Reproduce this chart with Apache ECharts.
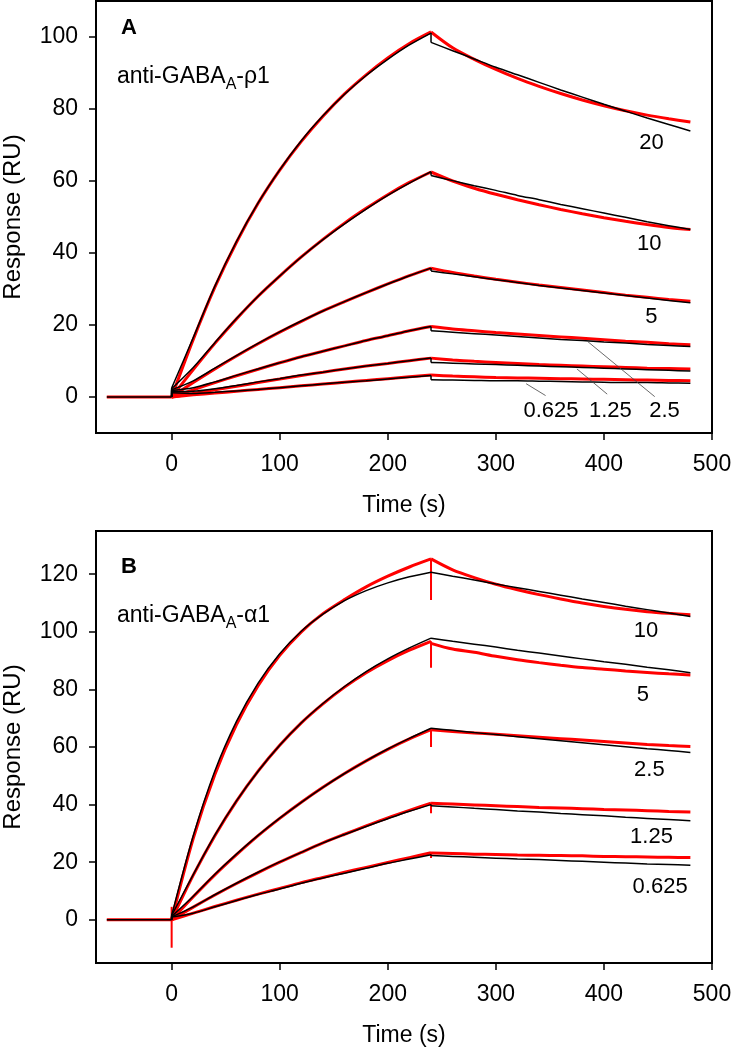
<!DOCTYPE html>
<html><head><meta charset="utf-8">
<script src="https://cdn.jsdelivr.net/npm/echarts@6/dist/echarts.min.js"></script>
<style>html,body{margin:0;padding:0;background:#fff}#c{width:732px;height:1050px}</style>
</head><body><div id="c"></div>
<script>
// ---------- data ----------
const baseTime = [-60, 0];
const assocTime = [0, 20, 40, 60, 80, 100, 120, 140, 160, 180, 200, 220, 240];
const dissTime = [240, 260, 280, 300, 320, 340, 360, 380, 400, 420, 440, 460, 480];
const xTicks = [0, 100, 200, 300, 400, 500];
const yTicksA = [0, 20, 40, 60, 80, 100];
const yTicksB = [0, 20, 40, 60, 80, 100, 120];

// Panel A (anti-GABAA-rho1)
const concA = ['20', '10', '5', '2.5', '1.25', '0.625'];
const redAssocA = [
  [0, 16.0, 30.5, 43.0, 53.8, 63.0, 71.0, 78.0, 84.2, 89.5, 94.2, 98.2, 101.4],
  [0, 7.6, 14.9, 21.7, 28.0, 33.6, 38.9, 43.8, 48.3, 52.4, 56.2, 59.6, 62.5],
  [0, 4.0, 7.8, 11.4, 14.8, 18.0, 21.0, 23.9, 26.5, 29.0, 31.4, 33.7, 35.8],
  [0, 2.0, 4.0, 5.9, 7.7, 9.5, 11.2, 12.7, 14.2, 15.7, 17.0, 18.4, 19.6],
  [0, 1.0, 2.0, 3.0, 4.0, 5.0, 6.0, 6.9, 7.8, 8.6, 9.3, 10.1, 10.8],
  [0, 0.6, 1.1, 1.6, 2.1, 2.6, 3.1, 3.6, 4.1, 4.6, 5.1, 5.6, 6.1]
];
const redDissA = [
  [101.4, 97.0, 93.8, 91.0, 88.5, 86.3, 84.3, 82.5, 80.9, 79.5, 78.3, 77.3, 76.4],
  [62.5, 60.0, 58.0, 56.3, 54.8, 53.4, 52.1, 50.9, 49.8, 48.8, 47.9, 47.1, 46.5],
  [35.8, 34.6, 33.6, 32.7, 31.9, 31.1, 30.4, 29.7, 29.0, 28.3, 27.7, 27.1, 26.6],
  [19.6, 18.9, 18.4, 17.9, 17.5, 17.1, 16.7, 16.3, 15.9, 15.5, 15.2, 14.8, 14.5],
  [10.8, 10.3, 9.9, 9.6, 9.3, 9.0, 8.8, 8.6, 8.4, 8.2, 8.0, 7.9, 7.8],
  [6.1, 5.8, 5.6, 5.4, 5.3, 5.2, 5.1, 5.0, 4.9, 4.8, 4.7, 4.6, 4.5]
];
const fitAssocA = [
  [2.5, 16.5, 30.8, 43.2, 53.9, 63.1, 71.2, 78.1, 84.1, 89.3, 93.8, 97.8, 101.1],
  [2.3, 8.2, 15.1, 21.8, 28.0, 33.6, 38.9, 43.7, 48.1, 52.2, 56.0, 59.4, 62.6],
  [2.0, 4.5, 8.0, 11.5, 14.9, 18.1, 21.1, 23.9, 26.5, 29.0, 31.4, 33.7, 35.8],
  [1.8, 2.6, 4.2, 6.0, 7.8, 9.5, 11.2, 12.7, 14.2, 15.7, 17.0, 18.4, 19.6],
  [1.5, 1.6, 2.3, 3.2, 4.2, 5.1, 6.1, 6.9, 7.8, 8.6, 9.3, 10.1, 10.8],
  [1.2, 1.0, 1.3, 1.7, 2.1, 2.6, 3.1, 3.6, 4.1, 4.5, 5.0, 5.5, 6.0]
];
const fitDissA = [
  [98.5, 96.2, 93.9, 91.6, 89.5, 87.4, 85.3, 83.3, 81.3, 79.4, 77.5, 75.7, 73.9],
  [61.5, 60.1, 58.7, 57.4, 56.0, 54.8, 53.5, 52.3, 51.1, 49.9, 48.7, 47.6, 46.5],
  [35.0, 34.2, 33.4, 32.6, 31.8, 31.0, 30.3, 29.6, 28.9, 28.2, 27.5, 26.8, 26.2],
  [18.4, 18.0, 17.6, 17.2, 16.8, 16.4, 16.0, 15.7, 15.3, 15.0, 14.6, 14.3, 14.0],
  [9.6, 9.4, 9.2, 9.0, 8.8, 8.6, 8.4, 8.2, 8.0, 7.8, 7.6, 7.4, 7.2],
  [4.8, 4.7, 4.6, 4.5, 4.5, 4.4, 4.3, 4.2, 4.1, 4.0, 4.0, 3.9, 3.8]
];
// label anchors (time, response) and leader lines for panel A
const labelAtA = [[444, 70.5], [442, 42.4], [444, 22.3], [456, -3.8], [406, -3.8], [351, -3.8]];
const leadersA = [
  [[385, 15.4], [447, 0.1]],
  [[375, 7.8], [403, 0.8]],
  [[328, 3.7], [346, 0.4]]
];

// Panel B (anti-GABAA-alpha1)
const concB = ['10', '5', '2.5', '1.25', '0.625'];
const redAssocB = [
  [0, 28.3, 50.5, 67.8, 81.3, 91.8, 100.0, 106.3, 111.2, 115.6, 119.3, 122.5, 125.3],
  [0, 15.5, 29.2, 41.2, 51.6, 60.6, 68.4, 75.0, 80.8, 85.8, 90.0, 93.6, 96.7],
  [0, 8.0, 15.6, 22.6, 29.2, 35.2, 40.8, 46.0, 50.8, 55.2, 59.2, 62.8, 66.0],
  [0, 4.4, 8.6, 12.6, 16.4, 20.0, 23.4, 26.7, 29.7, 32.6, 35.4, 38.0, 40.5],
  [0, 2.3, 4.6, 6.8, 8.9, 10.9, 12.9, 14.7, 16.5, 18.2, 19.9, 21.6, 23.3]
];
const redSpikeB = [111, 87.5, 60, 37, 21.5];
const redDissB = [
  [125.3, 121.5, 118.8, 116.5, 114.6, 112.9, 111.4, 110.0, 108.8, 107.8, 107.0, 106.4, 105.9],
  [96.0, 94.0, 92.9, 91.5, 90.3, 89.3, 88.4, 87.6, 87.0, 86.4, 85.9, 85.4, 85.0],
  [66.0, 65.4, 64.9, 64.4, 63.9, 63.4, 62.9, 62.4, 61.9, 61.4, 60.9, 60.5, 60.2],
  [40.5, 40.2, 39.9, 39.6, 39.3, 39.0, 38.8, 38.6, 38.3, 38.1, 37.9, 37.6, 37.4],
  [23.2, 23.0, 22.8, 22.7, 22.5, 22.4, 22.3, 22.2, 22.0, 21.9, 21.8, 21.7, 21.6]
];
const injectSpikeB = [4.5, -9.7];
const fitAssocB = [
  [1.5, 29.2, 51.7, 68.9, 82.2, 92.4, 100.2, 106.1, 110.8, 114.3, 117.0, 119.1, 120.7],
  [1.5, 15.7, 29.4, 41.3, 51.6, 60.6, 68.4, 75.1, 81.0, 86.2, 90.6, 94.4, 97.8],
  [1.2, 8.2, 15.8, 22.8, 29.3, 35.3, 40.8, 46.0, 50.8, 55.2, 59.3, 63.0, 66.5],
  [1.0, 4.5, 8.7, 12.7, 16.5, 20.1, 23.4, 26.7, 29.6, 32.4, 35.1, 37.7, 40.0],
  [1.0, 2.3, 4.5, 6.7, 8.8, 10.7, 12.7, 14.5, 16.2, 17.9, 19.6, 21.1, 22.6]
];
const fitDissB = [
  [120.7, 119.3, 118.0, 116.6, 115.3, 114.0, 112.7, 111.4, 110.2, 108.9, 107.7, 106.5, 105.3],
  [97.8, 96.7, 95.7, 94.7, 93.6, 92.6, 91.6, 90.6, 89.6, 88.7, 87.7, 86.8, 85.8],
  [66.5, 65.8, 65.0, 64.3, 63.6, 62.9, 62.2, 61.5, 60.8, 60.1, 59.4, 58.8, 58.1],
  [39.6, 39.2, 38.7, 38.3, 37.8, 37.4, 36.9, 36.5, 36.1, 35.6, 35.2, 34.8, 34.4],
  [22.3, 22.0, 21.7, 21.4, 21.1, 20.9, 20.6, 20.3, 20.0, 19.7, 19.4, 19.2, 18.9]
];
const labelAtB = [[439, 100.3], [436, 78.1], [442, 52.1], [444, 28.8], [452, 11.5]];

// ---------- build ----------
const FONT = 'Liberation Sans, Arial, sans-serif';
const RED = '#ff0000', BLACK = '#000000';
const series = [];
function line(ax, pts, color, width, smooth, z) {
  series.push({
    type: 'line', xAxisIndex: ax, yAxisIndex: ax, data: pts, symbol: 'none',
    smooth: smooth ? 0.3 : false,
    lineStyle: { color: color, width: width }, silent: true, animation: false, z: z, clip: true
  });
}
const zip = (ts, vs) => ts.map((t, i) => [t, vs[i]]);
const last = a => a[a.length - 1];

function panel(ax, conc, redAssoc, redDiss, fitAssoc, fitDiss, redSpike) {
  line(ax, zip(baseTime, [0, 0]), RED, 3, false, 2);
  line(ax, zip(baseTime, [0, 0]), BLACK, 1.5, false, 3);
  conc.forEach((c, k) => {
    line(ax, zip(assocTime, redAssoc[k]), RED, 3, true, 2);
    line(ax, zip(dissTime, redDiss[k]), RED, 3, true, 2);
    const conn = [[240, last(redAssoc[k])]];
    if (redSpike) conn.push([240, redSpike[k]]);
    conn.push([240, redDiss[k][0]]);
    line(ax, conn, RED, redSpike ? 2 : 3, false, 2);
    line(ax, [[0, 0], [0, fitAssoc[k][0]]], BLACK, 1.5, false, 3);
    line(ax, zip(assocTime, fitAssoc[k]), BLACK, 1.5, true, 3);
    line(ax, [[240, last(fitAssoc[k])], [240, fitDiss[k][0]]], BLACK, 1.5, false, 3);
    line(ax, zip(dissTime, fitDiss[k]), BLACK, 1.5, true, 3);
  });
}
panel(0, concA, redAssocA, redDissA, fitAssocA, fitDissA, null);
panel(1, concB, redAssocB, redDissB, fitAssocB, fitDissB, redSpikeB);
line(1, [[0, injectSpikeB[0]], [0, injectSpikeB[1]]], RED, 2, false, 2);

leadersA.forEach(p => line(0, p, '#444', 0.8, false, 4));

function labels(ax, conc, at) {
  series.push({
    type: 'scatter', xAxisIndex: ax, yAxisIndex: ax, symbolSize: 0, silent: true, animation: false, z: 5,
    itemStyle: { opacity: 1 },
    data: conc.map((c, i) => ({ name: c, value: at[i] })),
    label: { show: true, position: 'inside', formatter: p => p.name, color: '#000', opacity: 1, textBorderWidth: 0, fontSize: 22, fontFamily: FONT }
  });
}
labels(0, concA, labelAtA);
labels(1, concB, labelAtB);

function xAxis(gi) {
  return {
    type: 'value', gridIndex: gi, min: -70, max: 500,
    name: 'Time (s)', nameLocation: 'middle', nameGap: 61,
    nameTextStyle: { color: '#000', fontSize: 23, fontFamily: FONT },
    axisLine: { show: true, onZero: false, lineStyle: { color: '#000', width: 2 } },
    axisTick: { show: true, inside: false, length: 7, lineStyle: { color: '#000', width: 1.5 }, customValues: xTicks },
    axisLabel: { color: '#000', fontSize: 23, fontFamily: FONT, margin: 20, customValues: xTicks },
    splitLine: { show: false }
  };
}
function yAxis(gi, min, max, ticks) {
  return {
    type: 'value', gridIndex: gi, min: min, max: max,
    name: 'Response (RU)', nameLocation: 'middle', nameGap: 71, nameRotate: 90,
    nameTextStyle: { color: '#000', fontSize: 24, fontFamily: FONT },
    axisLine: { show: true, onZero: false, lineStyle: { color: '#000', width: 2 } },
    axisTick: { show: true, inside: false, length: 7, lineStyle: { color: '#000', width: 1.5 }, customValues: ticks },
    axisLabel: { color: '#000', fontSize: 23, fontFamily: FONT, margin: 18, customValues: ticks },
    splitLine: { show: false }
  };
}

function panelTitle(letter, top, greek) {
  return [
    { type: 'text', left: 121, top: top, style: { text: letter, font: 'bold 22px ' + FONT, fill: '#000' } },
    { type: 'text', left: 117, top: top + 48, style: {
      text: '{m|anti-GABA}{s|A}{m|-' + greek + '1}',
      rich: {
        m: { fontSize: 23, lineHeight: 23, verticalAlign: 'top', fontFamily: FONT, fill: '#000', color: '#000' },
        s: { fontSize: 16, lineHeight: 16, verticalAlign: 'top', padding: [12, 0, 0, 0], fontFamily: FONT, fill: '#000', color: '#000' }
      }
    } }
  ];
}

const chart = echarts.init(document.getElementById('c'), null, { renderer: 'canvas' });
chart.setOption({
  backgroundColor: '#fff',
  animation: false,
  grid: [
    { left: 96, top: 1, width: 616, height: 432, show: true, borderColor: '#000', borderWidth: 2, backgroundColor: 'transparent', outerBoundsMode: 'none', containLabel: false },
    { left: 96, top: 531, width: 616, height: 432, show: true, borderColor: '#000', borderWidth: 2, backgroundColor: 'transparent', outerBoundsMode: 'none', containLabel: false }
  ],
  xAxis: [xAxis(0), xAxis(1)],
  yAxis: [yAxis(0, -10, 110, yTicksA), yAxis(1, -15, 135, yTicksB)],
  graphic: panelTitle('A', 17, 'ρ').concat(panelTitle('B', 556, 'α')),
  series: series
});
</script></body></html>
